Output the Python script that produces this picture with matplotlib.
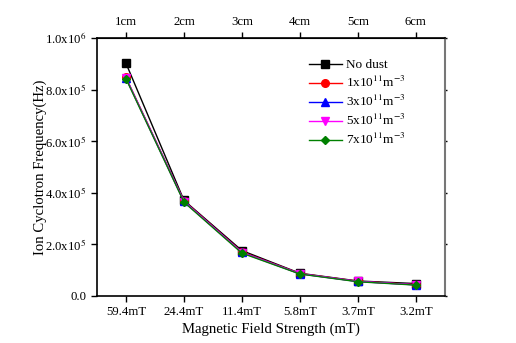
import matplotlib.pyplot as plt
import numpy as np

plt.rcParams['font.family'] = ['Liberation Serif', 'DejaVu Serif']
plt.rcParams['mathtext.fontset'] = 'stix'

field_labels = ["59.4mT", "24.4mT", "11.4mT", "5.8mT", "3.7mT", "3.2mT"]
distance_labels = ["1cm", "2cm", "3cm", "4cm", "5cm", "6cm"]

no_dust = [9.02e5, 3.70e5, 1.75e5, 0.87e5, 0.57e5, 0.47e5]
dust_1e11 = [8.47e5, 3.68e5, 1.70e5, 0.86e5, 0.56e5, 0.43e5]
dust_3e11 = [8.45e5, 3.66e5, 1.68e5, 0.85e5, 0.55e5, 0.42e5]
dust_5e11 = [8.44e5, 3.65e5, 1.67e5, 0.85e5, 0.55e5, 0.42e5]
dust_7e11 = [8.42e5, 3.63e5, 1.65e5, 0.84e5, 0.54e5, 0.41e5]

series = [
    (no_dust, "No dust", "black", "s"),
    (dust_1e11, r"1x10$^{11}$m$^{-3}$", "red", "o"),
    (dust_3e11, r"3x10$^{11}$m$^{-3}$", "blue", "^"),
    (dust_5e11, r"5x10$^{11}$m$^{-3}$", "magenta", "v"),
    (dust_7e11, r"7x10$^{11}$m$^{-3}$", "green", "D"),
]

fig = plt.figure(figsize=(5.16, 3.43), dpi=100)
ax = fig.add_axes([0.188, 0.138, 0.674, 0.751])

x = np.arange(len(field_labels))
for vals, label, color, marker in series:
    ms = 4.5 if marker == "D" else 5.5
    ax.plot(x, vals, color=color, marker=marker, markersize=ms, linewidth=1,
            label=label)

ax.set_xlim(-0.5, 5.5)
ax.set_ylim(0, 1.0e6)
ax.set_xticks(x)
ax.set_xticklabels(field_labels, fontsize=9.2)
yticks = [0, 2e5, 4e5, 6e5, 8e5, 1e6]
ytick_labels = ["0.0", r"2.0x10$^{5}$", r"4.0x10$^{5}$", r"6.0x10$^{5}$",
                r"8.0x10$^{5}$", r"1.0x10$^{6}$"]
ax.set_yticks(yticks)
ax.set_yticklabels(ytick_labels, fontsize=9.2)
ax.tick_params(direction='out', length=4, width=1)
ax.tick_params(axis='y', which='both', right=True)
for t in ax.yaxis.get_major_ticks():
    t.tick2line.set_markersize(1.5)
    t.tick2line.set_color('#555555')
ax.spines['right'].set_color('#777777')
ax.spines['right'].set_linewidth(1.5)
for s in ['left', 'bottom', 'top']:
    ax.spines[s].set_linewidth(1.2)

ax.set_xlabel("Magnetic Field Strength (mT)", fontsize=10.6, labelpad=3)
ax.set_ylabel("Ion Cyclotron Frequency(Hz)", fontsize=10.6, labelpad=-1)

top = ax.secondary_xaxis('top')
top.set_xticks(x)
top.set_xticklabels(distance_labels, fontsize=9.2)
top.tick_params(direction='out', length=4, width=1)

ax.legend(loc='upper left', bbox_to_anchor=(0.575, 0.965), frameon=False,
          fontsize=9.5, handlelength=2.5, handletextpad=0.3, labelspacing=0.3)

fig.savefig("out.png", dpi=100)
